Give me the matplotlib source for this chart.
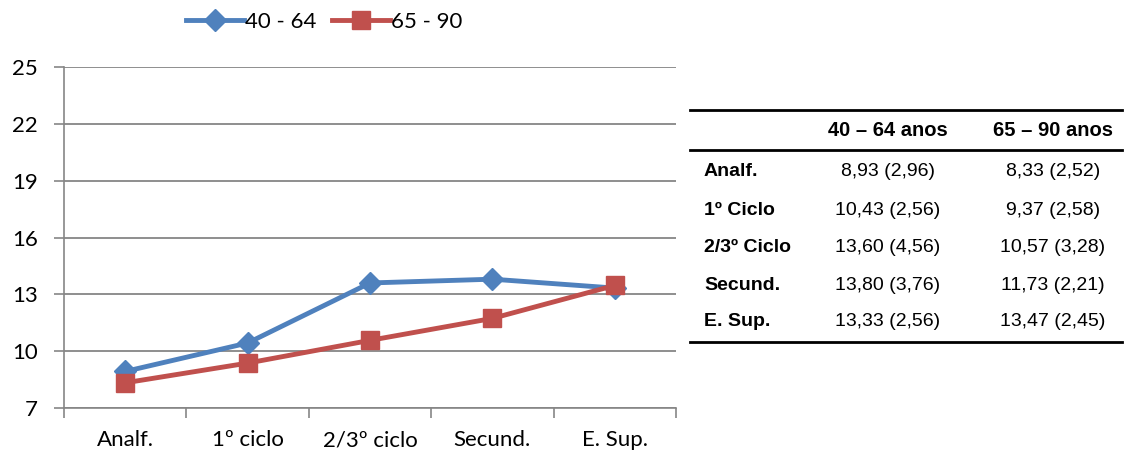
import matplotlib.pyplot as plt
from matplotlib.lines import Line2D
from matplotlib import font_manager

# ── data ──────────────────────────────────────────────────────────────────────
CATEGORIES = ["Analf.", "1º ciclo", "2/3º ciclo", "Secund.", "E. Sup."]
ROW_LABELS = ["Analf.", "1º Ciclo", "2/3º Ciclo", "Secund.", "E. Sup."]
MEAN_40_64 = [8.93, 10.43, 13.60, 13.80, 13.33]
SD_40_64   = [2.96, 2.56, 4.56, 3.76, 2.56]
MEAN_65_90 = [8.33, 9.37, 10.57, 11.73, 13.47]
SD_65_90   = [2.52, 2.58, 3.28, 2.21, 2.45]
SERIES     = ["40 - 64", "65 - 90"]
COL_HEADS  = ["40 – 64 anos", "65 – 90 anos"]
Y_TICKS    = [7, 10, 13, 16, 19, 22, 25]

BLUE = "#4F81BD"
RED  = "#C0504D"
GRID = "#868686"

names = {f.name for f in font_manager.fontManager.ttflist}
chart_font = "Lato" if "Lato" in names else "DejaVu Sans"
table_font = "Liberation Sans Narrow" if "Liberation Sans Narrow" in names else "Liberation Sans"

fig = plt.figure(figsize=(11.24, 4.58), dpi=100)
ax = fig.add_axes([64 / 1124, 1 - 408 / 458, 612 / 1124, 341 / 458])

x = list(range(len(CATEGORIES)))
ax.plot(x, MEAN_40_64, color=BLUE, lw=3.5, marker="D", ms=11, label=SERIES[0], zorder=3)
ax.plot(x, MEAN_65_90, color=RED, lw=3.5, marker="s", ms=13, label=SERIES[1], zorder=4)

ax.set_xlim(-0.5, len(CATEGORIES) - 0.5)
ax.set_ylim(Y_TICKS[0], Y_TICKS[-1])
ax.set_yticks(Y_TICKS)
ax.set_xticks(x)
ax.set_xticklabels(CATEGORIES)
ax.set_xticks([i - 0.5 for i in range(len(CATEGORIES) + 1)], minor=True)
ax.tick_params(axis="x", which="major", length=0, pad=16)
ax.tick_params(axis="x", which="minor", length=7, color=GRID, width=1.2)
ax.tick_params(axis="y", length=7, color=GRID, width=1.2, pad=12)
for lab in ax.get_xticklabels() + ax.get_yticklabels():
    lab.set_fontfamily(chart_font)
    lab.set_fontsize(16)
ax.grid(axis="y", color=GRID, lw=1.3)
ax.set_axisbelow(True)
for side in ("top", "right"):
    ax.spines[side].set_visible(False)
for side in ("left", "bottom"):
    ax.spines[side].set_color(GRID)
    ax.spines[side].set_linewidth(1.2)

leg = fig.legend(loc="center", bbox_to_anchor=(324 / 1124, 1 - 22 / 458), ncol=2,
                 frameon=False, prop={"family": chart_font, "size": 16},
                 handlelength=2.6, handletextpad=0.05, columnspacing=0.7)

# ── table on the right ────────────────────────────────────────────────────────
def fx(px):
    return px / 1124

def fy(py):
    return 1 - py / 458

for py in (110, 150, 342):
    fig.add_artist(Line2D([fx(690), fx(1122)], [fy(py), fy(py)], color="black", lw=2.0))

col_x = [fx(888), fx(1053)]
for cx, head in zip(col_x, COL_HEADS):
    fig.text(cx, fy(131), head, ha="center", va="center", fontsize=14.5,
             fontweight="bold", family=table_font)

def fmt(v):
    return f"{v:.2f}".replace(".", ",")

row_y = [172, 210, 247, 285, 322]
for i, label in enumerate(ROW_LABELS):
    yy = fy(row_y[i])
    fig.text(fx(704), yy, label, ha="left", va="center", fontsize=14,
             fontweight="bold", family=table_font)
    fig.text(col_x[0], yy, f"{fmt(MEAN_40_64[i])} ({fmt(SD_40_64[i])})",
             ha="center", va="center", fontsize=14, family=table_font)
    fig.text(col_x[1], yy, f"{fmt(MEAN_65_90[i])} ({fmt(SD_65_90[i])})",
             ha="center", va="center", fontsize=14, family=table_font)

fig.savefig("out.png", dpi=100)
